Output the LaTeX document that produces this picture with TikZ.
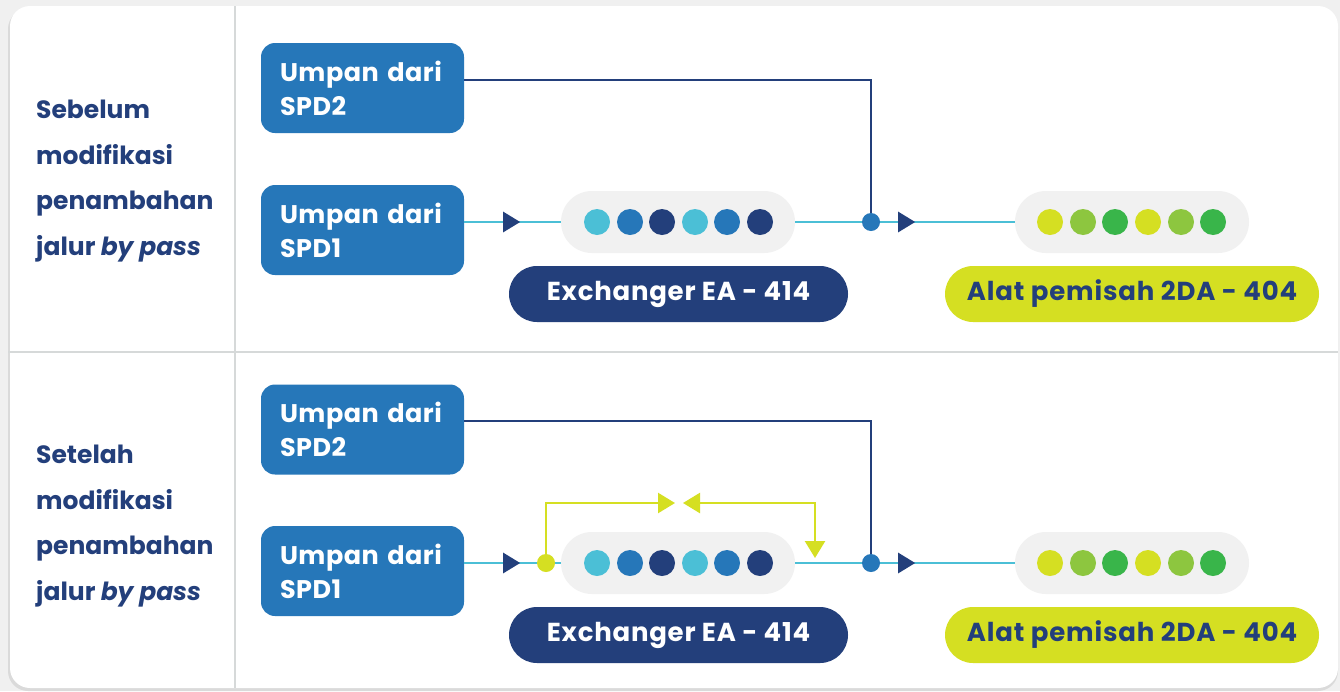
\documentclass[tikz,border=0pt]{standalone}
\usepackage{fontspec}
\setmainfont{Poppins}
\usetikzlibrary{arrows.meta,decorations.markings}
\definecolor{navyc}{HTML}{233F7B}
\definecolor{bluec}{HTML}{2677B9}
\definecolor{cyanc}{HTML}{4BBFD6}
\definecolor{limec}{HTML}{D5DF22}
\definecolor{lgreen}{HTML}{8DC63F}
\definecolor{greenc}{HTML}{39B54A}
\definecolor{pillgray}{HTML}{F1F1F1}
\definecolor{bgc}{HTML}{F0F0F0}
\definecolor{shadowc}{HTML}{DADADA}
\definecolor{divc}{HTML}{D6D9D9}
\tikzset{
  feed/.style={fill=bluec, text=white, rounded corners=14pt, minimum height=90pt,
    text width=165pt, inner xsep=19pt, align=left,
    font=\fontsize{25.5}{34}\selectfont\bfseries\addfontfeatures{LetterSpace=2}},
  pill/.style={fill=pillgray, rounded corners=31pt, minimum width=234pt, minimum height=62pt},
  dot/.style={circle, minimum size=26pt, inner sep=0pt},
  jdot/.style={circle, minimum size=18pt, inner sep=0pt},
  exlabel/.style={fill=navyc, text=white, rounded corners=28pt, minimum width=339pt,
    minimum height=56pt, font=\fontsize{26}{28}\selectfont\bfseries\addfontfeatures{LetterSpace=3}},
  seplabel/.style={fill=limec, text=navyc, rounded corners=28pt, minimum width=374pt,
    minimum height=56pt, font=\fontsize{26}{28}\selectfont\bfseries\addfontfeatures{LetterSpace=3.3}},
  sidelabel/.style={text=navyc, align=left, inner sep=0pt,
    font=\fontsize{25}{45.5}\selectfont\bfseries},
  cyanline/.style={draw=cyanc, line width=2.6pt},
  navyline/.style={draw=navyc, line width=2.4pt},
  limeline/.style={draw=limec, line width=2.4pt},
  midarrow/.style={postaction={decorate}, decoration={markings,
    mark=at position #1 with {\arrow[navyc]{Triangle[length=17pt,width=20pt]}}}},
  divider/.style={draw=divc, line width=2.5pt}
}
\begin{document}
\begin{tikzpicture}[x=1pt,y=-1pt]
\useasboundingbox (0,0) rectangle (1340,691);
\fill[bgc] (0,0) rectangle (1340,691);
\fill[shadowc, rounded corners=20pt] (8,9) rectangle (1338,691);
\fill[white, rounded corners=20pt] (10,6) rectangle (1338,688);
\draw[divider] (235,6) -- (235,688);
\draw[divider] (8,352) -- (1338,352);

% ---------- top section ----------
\node[sidelabel, anchor=base west] (lt) at (36,255) {Sebelum\\modifikasi\\penambahan\\jalur \textit{by pass}};
\node[feed] (s2a) at (362.5,88) {Umpan~dari\\SPD2};
\node[feed] (s1a) at (362.5,230) {Umpan~dari\\SPD1};
\node[pill] (exa) at (678,222) {};
\node[pill] (sepa) at (1132,222) {};
\node[exlabel] (exla) at (678.5,294) {Exchanger EA - 414};
\node[seplabel] (sepla) at (1132,294) {Alat pemisah 2DA - 404};
\node[dot, fill=cyanc] (ea1) at (597,222) {};
\node[dot, fill=bluec] (ea2) at (630,222) {};
\node[dot, fill=navyc] (ea3) at (662,222) {};
\node[dot, fill=cyanc] (ea4) at (695,222) {};
\node[dot, fill=bluec] (ea5) at (727,222) {};
\node[dot, fill=navyc] (ea6) at (760,222) {};
\node[dot, fill=limec] (sa1) at (1050,222) {};
\node[dot, fill=lgreen] (sa2) at (1083,222) {};
\node[dot, fill=greenc] (sa3) at (1115,222) {};
\node[dot, fill=limec] (sa4) at (1148,222) {};
\node[dot, fill=lgreen] (sa5) at (1181,222) {};
\node[dot, fill=greenc] (sa6) at (1213,222) {};
\coordinate (ja) at (871,222);
\draw[cyanline, midarrow=56pt] (s1a.east |- exa.west) -- (exa.west);
\draw[cyanline, midarrow=120pt] (exa.east) -- (sepa.west);
\draw[navyline] ([yshift=8pt]s2a.east) -| (ja);
\node[jdot, fill=bluec] (jda) at (ja) {};

% ---------- bottom section ----------
\node[sidelabel, anchor=base west] (lb) at (36,600) {Setelah\\modifikasi\\penambahan\\jalur \textit{by pass}};
\node[feed] (s2b) at (362.5,429.5) {Umpan~dari\\SPD2};
\node[feed] (s1b) at (362.5,571) {Umpan~dari\\SPD1};
\node[pill] (exb) at (678,563) {};
\node[pill] (sepb) at (1132,563) {};
\node[exlabel] (exlb) at (678.5,635) {Exchanger EA - 414};
\node[seplabel] (seplb) at (1132,635) {Alat pemisah 2DA - 404};
\node[dot, fill=cyanc] (eb1) at (597,563) {};
\node[dot, fill=bluec] (eb2) at (630,563) {};
\node[dot, fill=navyc] (eb3) at (662,563) {};
\node[dot, fill=cyanc] (eb4) at (695,563) {};
\node[dot, fill=bluec] (eb5) at (727,563) {};
\node[dot, fill=navyc] (eb6) at (760,563) {};
\node[dot, fill=limec] (sb1) at (1050,563) {};
\node[dot, fill=lgreen] (sb2) at (1083,563) {};
\node[dot, fill=greenc] (sb3) at (1115,563) {};
\node[dot, fill=limec] (sb4) at (1148,563) {};
\node[dot, fill=lgreen] (sb5) at (1181,563) {};
\node[dot, fill=greenc] (sb6) at (1213,563) {};
\coordinate (jb) at (871,563);
\coordinate (bpa) at (546,563);
\coordinate (bt1) at (675,503);
\coordinate (bt2) at (683,503);
\coordinate (bt3) at (815,558);
\draw[cyanline, midarrow=56pt] (s1b.east |- exb.west) -- (exb.west);
\draw[cyanline, midarrow=120pt] (exb.east) -- (sepb.west);
\draw[navyline] ([yshift=8.5pt]s2b.east) -| (jb);
\node[jdot, fill=bluec] (jdb) at (jb) {};
\draw[limeline, -{Triangle[length=17pt,width=20pt]}] (bpa) |- (bt1);
\draw[limeline, {Triangle[length=17pt,width=20pt]}-{Triangle[length=17pt,width=20pt]}] (bt2) -| (bt3);
\node[jdot, fill=limec] (bdot) at (bpa) {};
\end{tikzpicture}
\end{document}
